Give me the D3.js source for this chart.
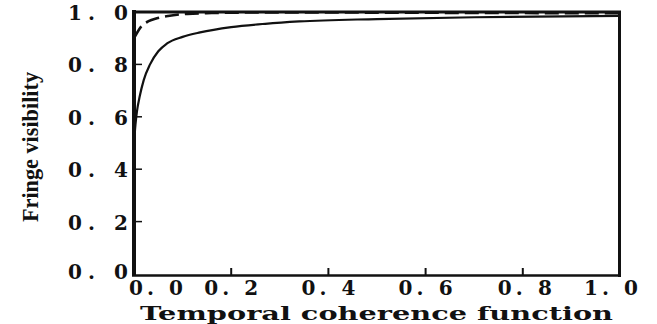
<!DOCTYPE html>
<head>
  <meta charset="utf-8">
  <script src="https://d3js.org/d3.v7.min.js"></script>
  <style>
    body { margin:0; background:white; }
    svg { display:block; }
    .tick-label { font-family: "DejaVu Serif", serif; font-weight: bold; font-size: 20px; fill: #111; }
    .title { font-family: "DejaVu Serif", serif; font-weight: bold; font-size: 19px; fill: #111; }
    .ytitle { font-family: "Liberation Serif", serif; font-weight: bold; font-size: 23px; fill: #111; }
  </style>
</head>
<body>
<script>
  // values
  var xTicks = [0, 0.2, 0.4, 0.6, 0.8, 1.0];
  var yTicks = [0, 0.2, 0.4, 0.6, 0.8, 1.0];
  var xTickLabels = ["0. 0", "0. 2", "0. 4", "0. 6", "0. 8", "1. 0"];
  var yTickLabels = ["0. 0", "0. 2", "0. 4", "0. 6", "0. 8", "1. 0"];

  var solidX = [0, 0.003, 0.006, 0.012, 0.02, 0.033, 0.05, 0.068, 0.1, 0.136, 0.2, 0.27, 0.34, 0.5, 0.7, 1.0];
  var solidY = [0.5, 0.57, 0.62, 0.68, 0.74, 0.80, 0.85, 0.88, 0.905, 0.922, 0.942, 0.955, 0.964, 0.973, 0.98, 0.985];

  var dashX = [0, 0.006, 0.015, 0.03, 0.047, 0.07, 0.11, 0.16, 0.25, 0.4, 0.6, 0.8, 1.0];
  var dashY = [0.9, 0.92, 0.945, 0.965, 0.976, 0.985, 0.993, 0.996, 0.998, 0.998, 0.997, 0.996, 0.995];

  var width = 657, height = 324;
  var svg = d3.select("body").append("svg")
      .attr("width", width).attr("height", height);

  var x = d3.scaleLinear().domain([0, 1]).range([134, 620]);
  var y = d3.scaleLinear().domain([0, 1]).range([274, 12]);

  // curves
  var line = d3.line()
      .x(function(d) { return x(d[0]); })
      .y(function(d) { return y(d[1]); })
      .curve(d3.curveMonotoneX);

  svg.append("path")
      .datum(d3.zip(solidX, solidY))
      .attr("d", line)
      .attr("fill", "none").attr("stroke", "#111").attr("stroke-width", 2.2);

  svg.append("path")
      .datum(d3.zip(dashX, dashY))
      .attr("d", line)
      .attr("fill", "none").attr("stroke", "#111").attr("stroke-width", 2.6)
      .attr("stroke-dasharray", "14,6");

  // frame
  var fr = svg.append("g").attr("stroke", "#111").attr("fill", "none");
  fr.append("line").attr("x1", 134).attr("x2", 134).attr("y1", 10).attr("y2", 276).attr("stroke-width", 4);
  fr.append("line").attr("x1", 132).attr("x2", 621).attr("y1", 275.5).attr("y2", 275.5).attr("stroke-width", 2.5);
  fr.append("line").attr("x1", 132).attr("x2", 621).attr("y1", 12).attr("y2", 12).attr("stroke-width", 3);
  fr.append("line").attr("x1", 619.5).attr("x2", 619.5).attr("y1", 11).attr("y2", 277).attr("stroke-width", 3);

  // inward ticks
  var inner = [0.2, 0.4, 0.6, 0.8];
  fr.selectAll(".xt").data(inner).enter().append("line")
      .attr("x1", function(d) { return x(d); }).attr("x2", function(d) { return x(d); })
      .attr("y1", 275).attr("y2", 268).attr("stroke-width", 2);
  fr.selectAll(".yt").data(inner).enter().append("line")
      .attr("x1", 134).attr("x2", 142)
      .attr("y1", function(d) { return y(d); }).attr("y2", function(d) { return y(d); })
      .attr("stroke-width", 1.5);

  // tick labels
  var xShift = [22, 0, 0, 0, 2, -9];
  svg.selectAll(".xl").data(xTicks).enter().append("text")
      .attr("class", "tick-label")
      .attr("x", function(d, i) { return x(d) + xShift[i]; })
      .attr("y", 295)
      .attr("text-anchor", "middle")
      .attr("textLength", 54).attr("lengthAdjust", "spacing")
      .text(function(d, i) { return xTickLabels[i]; });

  svg.selectAll(".yl").data(yTicks).enter().append("text")
      .attr("class", "tick-label")
      .attr("x", 128)
      .attr("y", function(d) { return y(d) + 8 - (d === 0 ? 3 : 0); })
      .attr("text-anchor", "end")
      .attr("textLength", 60).attr("lengthAdjust", "spacing")
      .text(function(d, i) { return yTickLabels[i]; });

  // axis titles
  svg.append("text").attr("class", "title")
      .attr("x", 140).attr("y", 320)
      .attr("textLength", 473).attr("lengthAdjust", "spacingAndGlyphs")
      .text("Temporal coherence function");

  svg.append("text").attr("class", "ytitle")
      .attr("transform", "translate(38,222) rotate(-90)")
      .attr("textLength", 150).attr("lengthAdjust", "spacingAndGlyphs")
      .text("Fringe visibility");
</script>
</body>
